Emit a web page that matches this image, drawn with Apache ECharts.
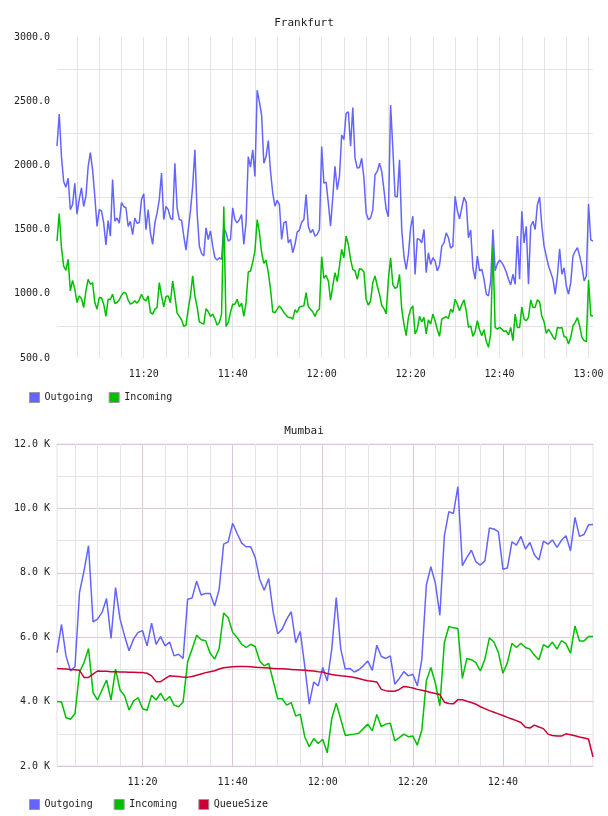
<!DOCTYPE html>
<html>
<head>
<meta charset="utf-8">
<script src="https://cdn.jsdelivr.net/npm/echarts@6/dist/echarts.min.js"></script>
<style>
  html, body { margin: 0; padding: 0; background: #fff; }
  #chart { width: 608px; height: 816px; }
</style>
</head>
<body>
<div id="chart"></div>
<script>
// Frankfurt, 30 s samples from 11:00:30 to 13:01:00
var frankOutgoing = [
  2150, 2400, 2070, 1875, 1830, 1900, 1655, 1695, 1860, 1620,
  1735, 1825, 1680, 1760, 1990, 2100, 1965, 1760, 1525, 1655,
  1645, 1550, 1380, 1570, 1450, 1890, 1565, 1590, 1550, 1710,
  1680, 1670, 1525, 1565, 1460, 1590, 1550, 1555, 1735, 1780,
  1500, 1655, 1475, 1385, 1550, 1630, 1735, 1940, 1578, 1680,
  1656, 1590, 1578, 2017, 1669, 1578, 1573, 1450, 1340, 1500,
  1643, 1837, 2121, 1630, 1371, 1315, 1294, 1514, 1423, 1490,
  1371, 1281, 1263, 1281, 1268, 1519, 1475, 1410, 1423, 1669,
  1578, 1552, 1578, 1617, 1384, 1552, 2069, 1987, 2121, 1914,
  2586, 2495, 2392, 2017, 2069, 2193, 1953, 1785, 1682, 1728,
  1695, 1423, 1552, 1565, 1397, 1423, 1320, 1384, 1480, 1496,
  1557, 1578, 1772, 1526, 1475, 1501, 1449, 1462, 1501, 2147,
  1862, 1870, 1707, 1526, 1754, 1992, 1811, 1914, 2237, 2203,
  2405, 2418, 2150, 2450, 2056, 1979, 1984, 2056, 1901, 1630,
  1578, 1591, 1656, 1927, 1953, 2017, 1953, 1811, 1656, 1600,
  2470, 2134, 1759, 1754, 2043, 1501, 1294, 1191, 1307, 1514,
  1604, 1150, 1430, 1423, 1397, 1501, 1165, 1320, 1229, 1281,
  1255, 1178, 1222, 1371, 1397, 1475, 1436, 1356, 1371, 1759,
  1648, 1583, 1669, 1751, 1712, 1436, 1496, 1203, 1113, 1294,
  1178, 1191, 1113, 997, 984, 1100, 1500, 1180, 1234, 1263,
  1242, 1211, 1170, 1113, 1069, 1152, 1074, 1449, 1113, 1643,
  1397, 1526, 1074, 1526, 1565, 1501, 1694, 1754, 1526, 1371,
  1294, 1216, 1165, 1113, 997, 1139, 1351, 1152, 1203, 1061,
  997, 1087, 1294, 1333, 1359, 1294, 1216, 1100, 1139, 1700,
  1420, 1410
];
var frankIncoming = [
  1410, 1625, 1360, 1216, 1183, 1268, 1023, 1105, 1036, 932,
  984, 963, 893, 1023, 1113, 1074, 1087, 932, 880, 971,
  969, 919, 824, 958, 958, 997, 925, 932, 953, 989,
  1010, 1005, 950, 919, 930, 945, 927, 953, 997, 958,
  945, 984, 855, 842, 880, 893, 1087, 984, 898, 979,
  984, 930, 1100, 984, 850, 824, 798, 746, 756, 880,
  984, 1140, 984, 896, 782, 772, 764, 885, 860, 824,
  842, 806, 756, 777, 842, 1680, 746, 777, 855, 919,
  919, 958, 898, 927, 824, 932, 1170, 1178, 1247, 1333,
  1578, 1480, 1320, 1237, 1263, 1165, 1036, 860, 852, 880,
  906, 883, 855, 834, 816, 816, 803, 875, 855, 896,
  903, 906, 1010, 901, 880, 860, 824, 868, 883, 1289,
  1121, 1144, 1100, 950, 1061, 1165, 1095, 1216, 1346, 1281,
  1449, 1384, 1268, 1191, 1178, 1113, 1196, 1191, 1170, 958,
  911, 945, 1087, 1139, 1061, 997, 911, 885, 844, 1113,
  1281, 1074, 1043, 1053, 1152, 880, 764, 674, 816, 880,
  906, 687, 725, 824, 782, 816, 687, 798, 764, 842,
  790, 720, 669, 803, 814, 821, 808, 880, 855, 958,
  919, 868, 914, 953, 868, 738, 751, 669, 705, 790,
  720, 674, 720, 630, 583, 687, 1370, 738, 725, 738,
  725, 707, 712, 679, 738, 635, 842, 738, 738, 896,
  803, 790, 816, 953, 893, 896, 953, 937, 824, 782,
  692, 725, 697, 664, 643, 738, 733, 738, 666, 661,
  609, 661, 751, 777, 814, 751, 661, 635, 627, 1110,
  830, 829
];

// Mumbai, 1 min samples from 11:01 to 13:00
var mumOutgoing = [
  5520, 6400, 5420, 4950, 5090, 7390, 8060, 8840, 6480, 6560,
  6770, 7200, 5960, 7540, 6560, 6040, 5580, 5940, 6150, 6200,
  5730, 6440, 5780, 6020, 5730, 5850, 5420, 5470, 5340, 7180,
  7220, 7740, 7310, 7360, 7360, 6970, 7490, 8890, 8960, 9540,
  9220, 8920, 8810, 8810, 8480, 7800, 7460, 7820, 6770, 6110,
  6250, 6560, 6790, 5830, 6180, 5110, 3920, 4610, 4490, 5060,
  4640, 5630, 7230, 5630, 5010, 5030, 4920, 4990, 5110, 5260,
  4970, 5750, 5400, 5340, 5420, 4540, 4720, 4930, 4800, 4850,
  4490, 5320, 7620, 8190, 7680, 6680, 9150, 9900, 9840, 10680,
  8220, 8480, 8700, 8340, 8240, 8370, 9390, 9360, 9280, 8110,
  8150, 8960, 8860, 9130, 8740, 8940, 8550, 8400, 8980, 8890,
  9020, 8790, 9010, 9150, 8680, 9720, 9130, 9190, 9490, 9500
];
var mumIncoming = [
  4000, 3990, 3500, 3450, 3630, 4920, 5210, 5650, 4280, 4050,
  4360, 4670, 4050, 5010, 4360, 4180, 3740, 4020, 4120, 3780,
  3730, 4200, 4050, 4260, 4020, 4160, 3890, 3840, 3990, 5230,
  5630, 6060, 5920, 5890, 5500, 5320, 5650, 6750, 6610, 6150,
  5990, 5780, 5680, 5780, 5710, 5260, 5110, 5190, 4640, 4090,
  4090, 3890, 3970, 3550, 3610, 2910, 2600, 2850, 2700, 2830,
  2410, 3470, 3950, 3450, 2950, 2970, 2990, 3020, 3160, 3300,
  3090, 3600, 3220, 3300, 3330, 2780, 2880, 2990, 2910, 2930,
  2650, 3120, 4640, 5060, 4570, 3870, 5830, 6330, 6290, 6270,
  4720, 5340, 5300, 5210, 4950, 5320, 5980, 5850, 5520, 4880,
  5210, 5810, 5680, 5810, 5680, 5630, 5440, 5300, 5770, 5680,
  5850, 5630, 5890, 5800, 5500, 6350, 5880, 5880, 6020, 6020
];
var mumQueueSize = [
  5030, 5020, 5010, 5000, 4990, 4970, 4750, 4750, 4850, 4950,
  4940, 4940, 4930, 4930, 4920, 4920, 4910, 4910, 4900, 4900,
  4880, 4800, 4620, 4620, 4710, 4800, 4790, 4780, 4760, 4760,
  4780, 4820, 4860, 4900, 4930, 4960, 5010, 5050, 5070, 5080,
  5090, 5090, 5090, 5080, 5070, 5060, 5050, 5040, 5030, 5020,
  5020, 5010, 5000, 4990, 4980, 4970, 4960, 4950, 4930, 4920,
  4870, 4840, 4820, 4800, 4790, 4770, 4750, 4720, 4680, 4650,
  4630, 4610, 4380, 4340, 4320, 4320, 4380, 4470, 4450, 4420,
  4380, 4350, 4320, 4280, 4250, 4220, 3980, 3940, 3930, 4060,
  4060, 4010, 3970, 3920, 3840, 3780, 3720, 3670, 3620, 3570,
  3510, 3460, 3410, 3350, 3200, 3180, 3270, 3210, 3160, 2990,
  2950, 2930, 2930, 3000, 2970, 2940, 2900, 2870, 2840, 2280
];

var frankYTicks = [500, 3000, 500];     // min, max, step
var mumYTicks = [2000, 12000, 2000];

function timeLabels(h, m, s, stepSec, n) {
  var out = [];
  var t = h * 3600 + m * 60 + s;
  for (var k = 0; k < n; k++) {
    var hh = Math.floor(t / 3600), mm = Math.floor(t / 60) % 60, ss = t % 60;
    out.push(String(hh).padStart(2, '0') + ':' + String(mm).padStart(2, '0') + ':' + String(ss).padStart(2, '0'));
    t += stepSec;
  }
  return out;
}

var frankTimes = timeLabels(11, 0, 30, 30, frankOutgoing.length);
var mumTimes = timeLabels(11, 1, 0, 60, mumOutgoing.length);

function minOf(v) { return parseInt(v.slice(3, 5), 10); }
function onMinute(v) { return v.slice(6) === '00'; }

var FONT = 'DejaVu Sans Mono';
var cOut = '#6464ff', cIn = '#00bf00', cQueue = '#cc0033';
var gray = '#e4e4e4', thistle = '#dcc6dc', border = '#ecdcec';

var myChart = echarts.init(document.getElementById('chart'));

var labelStyle = { fontFamily: FONT, fontSize: 10, color: '#222' };

option = {
  animation: false,
  title: [
    { text: 'Frankfurt', left: 'center', top: 13, textStyle: { fontFamily: FONT, fontSize: 11, fontWeight: 'normal', color: '#222' } },
    { text: 'Mumbai', left: 'center', top: 421, textStyle: { fontFamily: FONT, fontSize: 11, fontWeight: 'normal', color: '#222' } }
  ],
  legend: [
    {
      data: ['Outgoing', 'Incoming'], left: 24, top: 387, itemWidth: 10, itemHeight: 10, itemGap: 16,
      icon: 'rect', itemStyle: { borderColor: '#999', borderWidth: 1 },
      textStyle: { fontFamily: FONT, fontSize: 10, color: '#222' }
    },
    {
      data: ['Outgoing', 'Incoming', 'QueueSize'], left: 24, top: 794, itemWidth: 10, itemHeight: 10, itemGap: 21,
      icon: 'rect', itemStyle: { borderColor: '#999', borderWidth: 1 },
      textStyle: { fontFamily: FONT, fontSize: 10, color: '#222' }
    }
  ],
  grid: [
    { left: 57, top: 37, width: 536, height: 321 },
    { left: 57, top: 444, width: 536, height: 322, show: true, borderColor: border, borderWidth: 1 }
  ],
  xAxis: [
    {
      type: 'category', gridIndex: 0, position: 'bottom', data: frankTimes, boundaryGap: false,
      axisLine: { show: false }, axisTick: { show: false },
      axisLabel: Object.assign({
        margin: 11,
        interval: function (i, v) { return onMinute(v) && minOf(v) % 20 === 0; },
        formatter: function (v) { return v.slice(0, 5); }
      }, labelStyle),
      splitLine: { show: true, interval: function (i, v) { return onMinute(v) && minOf(v) % 5 === 0; }, lineStyle: { color: gray } }
    },
    {
      type: 'category', gridIndex: 1, position: 'bottom', data: mumTimes, boundaryGap: false,
      axisLine: { show: false }, axisTick: { show: false },
      axisLabel: Object.assign({
        margin: 11,
        interval: function (i, v) { return minOf(v) % 20 === 0 && v !== '13:00:00'; },
        formatter: function (v) { return v.slice(0, 5); }
      }, labelStyle),
      splitLine: { show: true, interval: function (i, v) { return minOf(v) % 20 === 0 && v !== '13:00:00'; }, lineStyle: { color: thistle } }
    },
    {
      type: 'category', gridIndex: 1, data: mumTimes, boundaryGap: false,
      axisLine: { show: false }, axisTick: { show: false },
      axisLabel: { show: false },
      splitLine: { show: true, interval: function (i, v) { return minOf(v) % 5 === 0 && minOf(v) % 20 !== 0; }, lineStyle: { color: gray } }
    }
  ],
  yAxis: [
    {
      type: 'value', gridIndex: 0, min: frankYTicks[0], max: frankYTicks[1], interval: frankYTicks[2],
      axisLine: { show: false }, axisTick: { show: false },
      axisLabel: Object.assign({ margin: 7, formatter: function (v) { return v.toFixed(1); } }, labelStyle),
      splitLine: { show: false },
      minorTick: { show: false, splitNumber: 2 },
      minorSplitLine: { show: true, lineStyle: { color: gray } }
    },
    {
      type: 'value', gridIndex: 1, min: mumYTicks[0], max: mumYTicks[1], interval: mumYTicks[2],
      axisLine: { show: false }, axisTick: { show: false },
      axisLabel: Object.assign({ margin: 7, formatter: function (v) { return (v / 1000).toFixed(1) + ' K'; } }, labelStyle),
      splitLine: { show: true, lineStyle: { color: thistle } },
      minorTick: { show: false, splitNumber: 2 },
      minorSplitLine: { show: true, lineStyle: { color: gray } }
    }
  ],
  series: [
    { name: 'Outgoing', type: 'line', xAxisIndex: 0, yAxisIndex: 0, data: frankOutgoing, showSymbol: false, color: cOut, lineStyle: { width: 1.5 } },
    { name: 'Incoming', type: 'line', xAxisIndex: 0, yAxisIndex: 0, data: frankIncoming, showSymbol: false, color: cIn, lineStyle: { width: 1.5 } },
    { name: 'Outgoing', type: 'line', xAxisIndex: 1, yAxisIndex: 1, data: mumOutgoing, showSymbol: false, color: cOut, lineStyle: { width: 1.5 } },
    { name: 'Incoming', type: 'line', xAxisIndex: 1, yAxisIndex: 1, data: mumIncoming, showSymbol: false, color: cIn, lineStyle: { width: 1.5 } },
    { name: 'QueueSize', type: 'line', xAxisIndex: 1, yAxisIndex: 1, data: mumQueueSize, showSymbol: false, color: cQueue, lineStyle: { width: 1.5 } }
  ]
};
myChart.setOption(option);
</script>
</body>
</html>
